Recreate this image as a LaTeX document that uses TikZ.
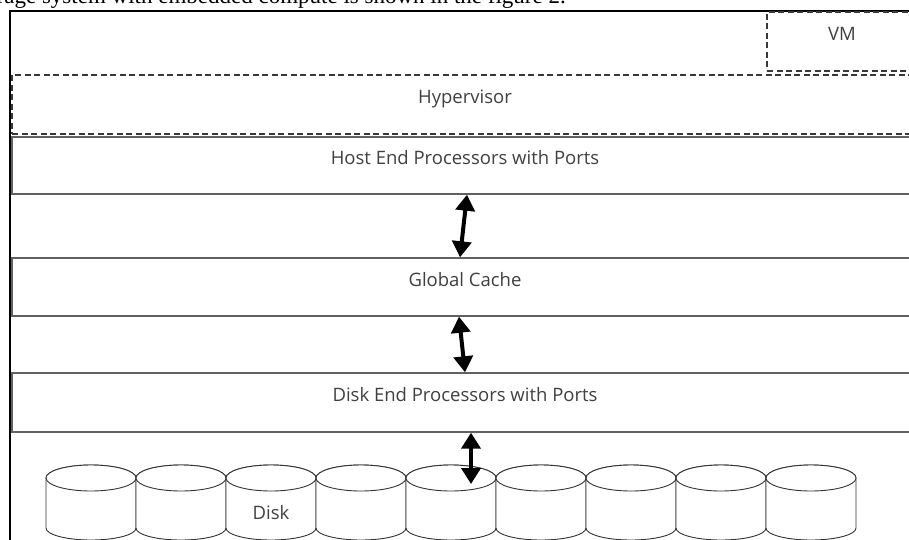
\documentclass[tikz,border=0pt]{standalone}
\usepackage{fontspec}
\setmainfont{Open Sans}
\newfontfamily\capfont{Liberation Serif}
\usetikzlibrary{arrows.meta}

\tikzset{
  layer/.style={draw=black!62, line width=1.4pt, fill=white,
    minimum width=906pt, minimum height=58pt, inner sep=0pt,
    text=black!75, font=\fontsize{18.5}{21}\selectfont,
    text height=12pt, text depth=14pt},
  dashlayer/.style={layer, draw=black!78, dash pattern=on 6pt off 3.5pt},
  disk/.style={draw=black!80, line width=0.9pt, fill=white},
  biarrow/.style={{Triangle[width=19pt,length=16pt]}-{Triangle[width=19pt,length=16pt]},
    line width=4pt},
}

% one disk, #1 = left edge
\newcommand\drawdisk[1]{%
  \path[disk] (#1,478) -- (#1,528)
    arc[start angle=180, end angle=360, x radius=45pt, y radius=12pt]
    -- (#1+90,478)
    arc[start angle=0, end angle=180, x radius=45pt, y radius=13pt] -- cycle;
  \draw[disk] (#1+45,478) ellipse [x radius=45pt, y radius=13pt];
}

\begin{document}
\begin{tikzpicture}[x=1pt,y=-1pt]
  \useasboundingbox (0,0) rectangle (909,540);
  \clip (0,0) rectangle (909,540);

  \def\xm{465}   % middle of the layers
  \def\dw{90}    % disk width

  % caption line cut by the page top
  \node[font=\capfont\fontsize{23}{26}\selectfont, anchor=base east, inner sep=0pt]
    (caption) at (566,4) {storage system with embedded compute is shown in the figure 2.};

  % outer frame
  \draw[line width=1.6pt] (10,11) rectangle (930,560);

  % layers
  \node[dashlayer, minimum width=150pt, minimum height=59pt] (vm) at (842,41.5) {VM};
  \node[dashlayer, minimum height=59pt] (hyper)    at (\xm,104.5) {Hypervisor};
  \node[layer, minimum height=57pt]    (host)     at (\xm,165.5) {Host End Processors with Ports};
  \node[layer]                         (cache)    at (\xm,287)   {Global Cache};
  \node[layer, minimum height=59pt]    (diskend)  at (\xm,402.5) {Disk End Processors with Ports};

  % disks
  \drawdisk{46}
  \drawdisk{46+\dw}
  \drawdisk{46+2*\dw}
  \drawdisk{46+3*\dw}
  \drawdisk{46+4*\dw}
  \drawdisk{46+5*\dw}
  \drawdisk{46+6*\dw}
  \drawdisk{46+7*\dw}
  \drawdisk{46+8*\dw}
  \node[text=black!75, font=\fontsize{18.5}{21}\selectfont] (dlabel) at (271,513) {Disk};

  \coordinate (dtop) at (471,484);

  % connectors
  \draw[biarrow] ([xshift=2pt]host.south) -- ([xshift=-5pt]cache.north);
  \draw[biarrow] ([xshift=-6pt]cache.south) -- (diskend.north);
  \draw[biarrow] ([xshift=6pt]diskend.south) -- (dtop);
\end{tikzpicture}
\end{document}
